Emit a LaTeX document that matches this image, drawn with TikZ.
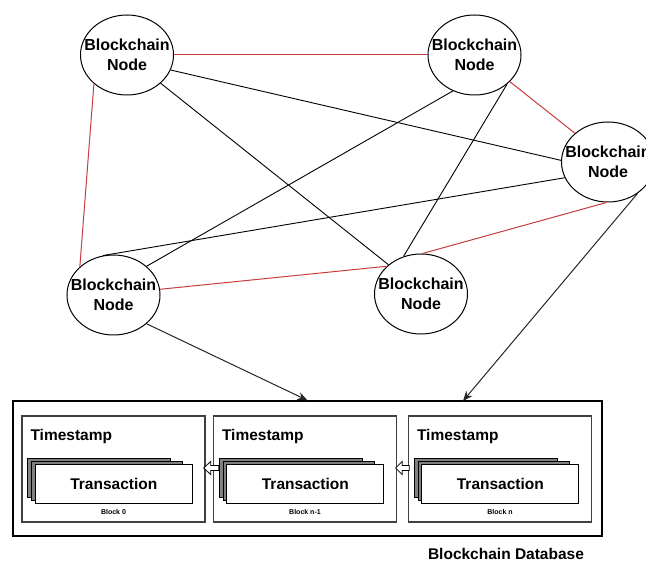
\documentclass[tikz,border=0pt]{standalone}
\usepackage{fontspec}
\setmainfont{Liberation Sans}
\usetikzlibrary{arrows.meta,shapes.geometric,calc}
\definecolor{edgered}{RGB}{200,60,60}
\begin{document}
\begin{tikzpicture}[x=1pt,y=-1pt,
  bnode/.style={ellipse,draw,line width=1pt,minimum width=93pt,minimum height=80pt,inner xsep=-12pt,inner ysep=0pt,align=center,font=\bfseries\fontsize{16}{20}\selectfont},
  link/.style={line width=0.9pt},
  redlink/.style={line width=1pt,draw=edgered},
  feed/.style={line width=1pt,draw=black!85,-{Stealth[length=10pt,width=8pt]}},
  dbbox/.style={draw,line width=1.2pt,minimum width=589pt,minimum height=135pt,inner sep=0pt},
  blockbox/.style={draw=black!75,line width=1.3pt,minimum width=183pt,minimum height=106pt,inner sep=0pt},
  stackback/.style={draw,line width=0.7pt,fill=black!50,minimum height=39pt,inner sep=0pt},
  stackfront/.style={draw,line width=0.9pt,fill=white,minimum width=157pt,minimum height=39pt,inner sep=0pt,font=\bfseries\fontsize{15.5}{18}\selectfont},
  tstext/.style={anchor=west,inner sep=0pt,font=\bfseries\fontsize{15.5}{18}\selectfont},
  lbltext/.style={inner sep=0pt,font=\bfseries\fontsize{7}{8}\selectfont},
  titletext/.style={inner sep=0pt,font=\bfseries\fontsize{15.5}{18}\selectfont},
  hollow/.style={draw,fill=white,line width=0.8pt,line join=miter}
]
\useasboundingbox (0,0) rectangle (646,561);
\clip (0,0) rectangle (646,561);

% network nodes
\node[bnode] (n1) at (127,55) {Blockchain\\Node};
\node[bnode] (n2) at (474.5,55) {Blockchain\\Node};
\node[bnode] (n3) at (608,162) {Blockchain\\Node};
\node[bnode] (n4) at (113.5,295) {Blockchain\\Node};
\node[bnode] (n5) at (421,294) {Blockchain\\Node};

% red links
\draw[redlink] (n1.east) -- (n2.west);
\draw[redlink] (n1.221) -- (n4.140);
\draw[redlink] (n2.-37) -- (n3.139);
\draw[redlink] (n4.7) -- (n5.141);
\draw[redlink] (n5.88) -- (n3.268);

% black links
\draw[link] (n1.-19) -- (n3.178);
\draw[link] (n1.-40) -- (n5.138);
\draw[link] (n2.239) -- (n4.41);
\draw[link] (n2.-42) -- (n5.115);
\draw[link] (n3.200) -- (n4.105);

% database
\node[dbbox] (db) at (307.5,468.5) {};
\coordinate (dbin) at (463,401);
\draw[feed] (n4.-41) -- (db.north);
\draw[feed] (n3.-47) -- (dbin);

\node[blockbox] (b0) at (113.5,469) {};
\node[blockbox] (bn1) at (305,469) {};
\node[blockbox] (bn) at (500,469) {};

\foreach \b/\l in {b0/Block 0, bn1/Block n-1, bn/Block n}{
  \node[tstext] (\b ts) at ($(\b.west)+(9,-33)$) {Timestamp};
  \node[stackback,minimum width=143pt] (\b s1) at ($(\b.west)+(77.5,8.5)$) {};
  \node[stackback,minimum width=151pt] (\b s2) at ($(\b.west)+(85.5,11.5)$) {};
  \node[stackfront] (\b tx) at ($(\b.west)+(92.5,14.5)$) {Transaction};
  \node[lbltext] (\b lb) at ($(\b.south)+(0,-11)$) {\l};
}

% hollow arrows between blocks
\draw[hollow,shift={(b0.east)}] (-2,-1) -- (5,-7.5) -- (5,-3.5) -- (13,-3.5) -- (13,1.5) -- (5,1.5) -- (5,5.5) -- cycle;
\draw[hollow,shift={(bn1.east)}] (-1.5,-1) -- (5,-7.5) -- (5,-3.5) -- (12,-3.5) -- (12,1.5) -- (5,1.5) -- (5,5.5) -- cycle;

\node[titletext] (title) at (506,553.5) {Blockchain Database};
\end{tikzpicture}
\end{document}
